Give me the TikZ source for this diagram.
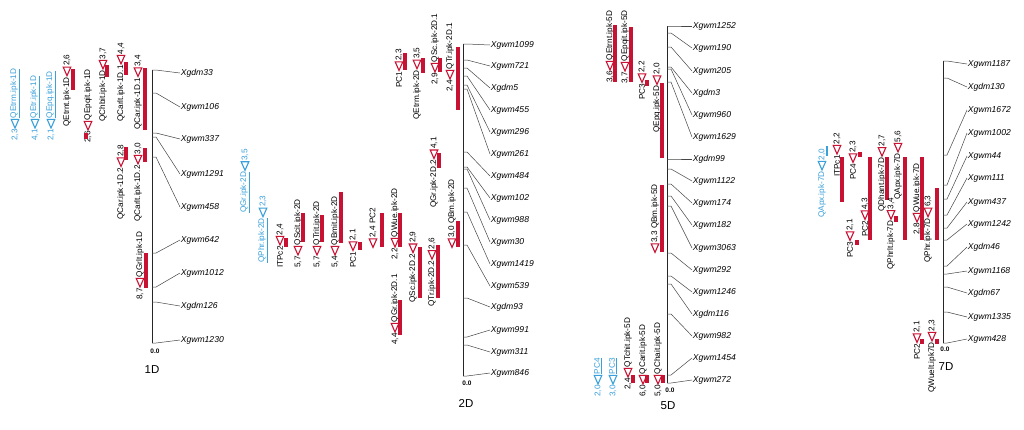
\documentclass[tikz,border=0pt]{standalone}
\usepackage{fontspec}
\setmainfont{Liberation Sans}
\definecolor{qred}{RGB}{200,18,52}
\definecolor{qblue}{RGB}{58,160,218}
\definecolor{conncol}{RGB}{70,70,70}
% marker: name, axis x, attach y, label x, label y, text
\newcommand{\mkr}[6]{%
  \coordinate (a#1) at (#2,#3);
  \node[mk] (#1) at (#4,#5) {#6};
  \draw[conn] (a#1) -- ++(4,0) -- (#1.west);}
% qtl label: name, x, y bottom, text before triangle, text after triangle, colour
\newcommand{\qtl}[6]{%
  \node[ql,#6txt] (#1a) at (#2,#3) {#4};
  \draw[tri=#6] (#1a.east) ++(0,-1.2) coordinate (#1p) -- ++(-3.8,-8.6) -- ++(7.6,0) -- cycle;
  \path (#1p) ++(0,-9.6) coordinate (#1e);
  \node[ql,#6txt] (#1b) at (#1e) {#5};}
% bar: x, y1, y2
\newcommand{\qbar}[3]{\draw[qbarst] (#1,#2) -- (#1,#3);}
\newcommand{\bbar}[3]{\draw[bbarst] (#1,#2) -- (#1,#3);}
\tikzset{
  mk/.style={anchor=west,inner sep=0.6pt,font=\fontsize{8.6}{10}\selectfont\itshape},
  ql/.style={rotate=90,anchor=west,inner sep=0pt,font=\fontsize{8.2}{9}\selectfont},
  qredtxt/.style={text=black},
  qbluetxt/.style={text=qblue},
  tri/.style={draw=#1,line width=1.1pt,fill=white,line join=miter},
  conn/.style={draw=conncol,line width=0.5pt},
  axisln/.style={draw=black!85,line width=0.9pt},
  qbarst/.style={draw=qred,line width=3.2pt},
  bbarst/.style={draw=qblue,line width=1.2pt},
  zero/.style={font=\fontsize{6.5}{7}\selectfont\bfseries,inner sep=0pt},
  chrlab/.style={font=\fontsize{11.5}{12}\selectfont,inner sep=0pt}
}
\begin{document}
\begin{tikzpicture}[x=1pt,y=-1pt]
\fill[white] (0,0) rectangle (1024,429);
\useasboundingbox (0,0) rectangle (1024,429);

% ================= 1D =================
\coordinate (t1) at (152,70); \coordinate (b1) at (152,343);
\draw[axisln] (t1) -- (b1);
\node[zero] (z1) at (155,351) {0.0};
\node[chrlab] (c1) at (152,370) {1D};
\mkr{m1a}{152}{70}{180}{73}{Xgdm33}
\mkr{m1b}{152}{93}{180}{107}{Xgwm106}
\mkr{m1c}{152}{133}{180}{139}{Xgwm337}
\mkr{m1d}{152}{137}{180}{174}{Xgwm1291}
\mkr{m1e}{152}{157}{180}{207}{Xgwm458}
\mkr{m1f}{152}{253}{180}{240}{Xgwm642}
\mkr{m1g}{152}{287}{180}{273}{Xgwm1012}
\mkr{m1h}{152}{302}{180}{306}{Xgdm126}
\mkr{m1i}{152}{343}{180}{340}{Xgwm1230}

\qtl{q1}{15}{141}{2,3}{\underline{QEtrm.ipk-1D}}{qblue}
\qtl{q2}{35}{141}{4,1}{\underline{QEtr.ipk-1D}}{qblue}
\qtl{q3}{51}{141}{2,1}{\underline{QEpq.ipk-1D}}{qblue}
\qtl{q4}{67}{127}{QEtrnt.ipk-1D}{2,6}{qred} \qbar{73}{69}{90}
\qtl{q5}{88}{143}{2,6}{QEpqit.ipk-1D}{qred} \qbar{86}{133}{139}
\qtl{q6}{103}{122}{QChbit.ipk-1D}{3,7}{qred} \qbar{107}{65}{77}
\qtl{q7}{121}{122}{QCarlt.ipk-1D.1}{4,4}{qred} \qbar{126}{62}{75}
\qtl{q8}{138}{130}{QCar.ipk-1D.1}{3,4}{qred} \qbar{145}{68}{130}
\qtl{q9}{121}{220}{QCar.ipk-1D.2}{2,8}{qred} \qbar{126}{147}{160}
\qtl{q10}{138}{222}{QCarlt.ipk-1D.2}{3,0}{qred} \qbar{145}{148}{162}
\qtl{q11}{140}{300}{8,7}{QGrlt.ipk-1D}{qred} \qbar{146}{253}{288}

% ================= 2D =================
\coordinate (t2) at (463,44); \coordinate (b2) at (463,376);
\draw[axisln] (t2) -- (b2);
\node[zero] (z2) at (467,383) {0.0};
\node[chrlab] (c2) at (466,403) {2D};
\mkr{m2a}{463}{44}{490}{45}{Xgwm1099}
\mkr{m2b}{463}{60}{490}{66}{Xgwm721}
\mkr{m2c}{463}{68}{490}{88}{Xgdm5}
\mkr{m2d}{463}{76}{490}{110}{Xgwm455}
\mkr{m2e}{463}{85}{490}{132}{Xgwm296}
\mkr{m2f}{463}{89}{490}{154}{Xgwm261}
\mkr{m2g}{463}{152}{490}{176}{Xgwm484}
\mkr{m2h}{463}{167}{490}{198}{Xgwm102}
\mkr{m2i}{463}{169}{490}{220}{Xgwm988}
\mkr{m2j}{463}{188}{490}{242}{Xgwm30}
\mkr{m2k}{463}{212}{490}{264}{Xgwm1419}
\mkr{m2l}{463}{245}{490}{286}{Xgwm539}
\mkr{m2m}{463}{298}{490}{307}{Xgdm93}
\mkr{m2n}{463}{337}{490}{330}{Xgwm991}
\mkr{m2o}{463}{345}{490}{352}{Xgwm311}
\mkr{m2p}{463}{376}{490}{373}{Xgwm846}

\qtl{q12}{245}{213}{\underline{QGr.ipk-2D}}{3,5}{qblue}
\qtl{q13}{263}{263}{\underline{QPhr.ipk-2D}}{2,3}{qblue}
\qtl{q14}{280}{268}{ITPc2}{2,4}{qred} \qbar{286}{238}{247}
\qtl{q15}{298}{268}{5,7}{QScit.ipk-2D}{qred} \qbar{303}{213}{242}
\qtl{q16}{317}{268}{5,7}{QTrit.ipk-2D}{qred} \qbar{322}{215}{242}
\qtl{q17}{335}{268}{5,4}{QBmit.ipk-2D}{qred} \qbar{341}{192}{243}
\qtl{q18}{353}{268}{PC1}{2,1}{qred} \qbar{360}{242}{250}
\qtl{q19}{373}{250}{}{2,4 PC2}{qred} \qbar{382}{213}{247}
\qtl{q20}{395}{260}{2,2}{QWue.ipk-2D}{qred} \qbar{400}{213}{247}
\qtl{q21}{413}{303}{QSc.ipk-2D.2}{2,9}{qred} \qbar{420}{247}{298}
\qtl{q22}{432}{307}{QTr.ipk-2D.2}{2,6}{qred} \qbar{438}{245}{298}
\qtl{q23}{452}{250}{}{3,0 QBm.ipk-2D}{qred} \qbar{458}{221}{247}
\qtl{q24}{434}{208}{QGr.ipk-2D.2}{4,1}{qred} \qbar{439}{153}{168}
\qtl{q25}{395}{345}{4,4}{QGr.ipk-2D.1}{qred} \qbar{400}{300}{335}
\qtl{q26}{399}{88}{PC1}{2,3}{qred} \qbar{405}{53}{70}
\qtl{q27}{417}{120}{QEtrm.ipk-2D}{3,5}{qred} \qbar{423}{58}{73}
\qtl{q28}{435}{85}{2,9}{QSc.ipk-2D.1}{qred} \qbar{440}{58}{72}
\qtl{q29}{450}{92}{2,4}{QTr.ipk-2D.1}{qred} \qbar{458}{47}{110}

% ================= 5D =================
\coordinate (t5) at (667,26); \coordinate (b5) at (667,383);
\draw[axisln] (t5) -- (b5);
\node[zero] (z5) at (670,390) {0.0};
\node[chrlab] (c5) at (668,406) {5D};
\mkr{m5a}{667}{26}{692}{26}{Xgwm1252}
\mkr{m5b}{667}{33}{692}{48}{Xgwm190}
\mkr{m5c}{667}{47}{692}{71}{Xgwm205}
\mkr{m5d}{667}{67}{692}{93}{Xgdm3}
\mkr{m5e}{667}{69}{692}{115}{Xgwm960}
\mkr{m5f}{667}{82}{692}{137}{Xgwm1629}
\mkr{m5g}{667}{159}{692}{159}{Xgdm99}
\mkr{m5h}{667}{169}{692}{181}{Xgwm1122}
\mkr{m5i}{667}{184}{692}{203}{Xgwm174}
\mkr{m5j}{667}{196}{692}{225}{Xgwm182}
\mkr{m5k}{667}{206}{692}{248}{Xgwm3063}
\mkr{m5l}{667}{253}{692}{270}{Xgwm292}
\mkr{m5m}{667}{276}{692}{292}{Xgwm1246}
\mkr{m5n}{667}{284}{692}{314}{Xgdm116}
\mkr{m5o}{667}{314}{692}{336}{Xgwm982}
\mkr{m5p}{667}{375}{692}{358}{Xgwm1454}
\mkr{m5q}{667}{383}{692}{380}{Xgwm272}

\qtl{q30}{610}{83}{3,6}{QEtrnt.ipk-5D}{qred} \qbar{615}{25}{82}
\qtl{q31}{625}{84}{3,7}{QEpqit.ipk-5D}{qred} \qbar{631}{27}{82}
\qtl{q32}{642}{100}{PC3}{2,2}{qred} \qbar{647}{80}{86}
\qtl{q33}{657}{133}{QEpq.ipk-5D}{2,0}{qred} \qbar{662}{83}{158}
\qtl{q34}{655}{255}{}{3,3 QBm.ipk-5D}{qred} \qbar{662}{185}{252}
\qtl{q35}{628}{390}{2,4}{QTchit.ipk-5D}{qred} \qbar{633}{375}{383}
\qtl{q36}{643}{397}{6,0}{QCarit.ipk-5D}{qred} \qbar{647}{375}{383}
\qtl{q37}{658}{397}{5,0}{QChait.ipk-5D}{qred} \qbar{663}{375}{383}
\qtl{q38}{598}{397}{2,0}{\underline{PC4}}{qblue}
\qtl{q39}{613}{397}{3,0}{\underline{PC3}}{qblue}

% ================= 7D =================
\coordinate (t7) at (943,61); \coordinate (b7) at (943,343);
\draw[axisln] (t7) -- (b7);
\node[zero] (z7) at (945,349) {0.0};
\node[chrlab] (c7) at (946,367) {7D};
\mkr{m7a}{943}{61}{967}{64}{Xgwm1187}
\mkr{m7b}{943}{78}{967}{87}{Xgdm130}
\mkr{m7c}{943}{155}{967}{110}{Xgwm1672}
\mkr{m7d}{943}{185}{967}{133}{Xgwm1002}
\mkr{m7e}{943}{199}{967}{156}{Xgwm44}
\mkr{m7f}{943}{215}{967}{178}{Xgwm111}
\mkr{m7g}{943}{228}{967}{202}{Xgwm437}
\mkr{m7h}{943}{240}{967}{224}{Xgwm1242}
\mkr{m7i}{943}{266}{967}{247}{Xgdm46}
\mkr{m7j}{943}{274}{967}{271}{Xgwm1168}
\mkr{m7k}{943}{287}{967}{293}{Xgdm67}
\mkr{m7l}{943}{312}{967}{317}{Xgwm1335}
\mkr{m7m}{943}{343}{967}{339}{Xgwm428}

\qtl{q40}{822}{218}{QApx.ipk-7D}{2,0}{qblue} \bbar{827}{146}{156}
\qtl{q41}{837}{177}{ITPc1}{2,2}{qred} \qbar{842}{157}{202}
\qtl{q42}{853}{180}{PC4}{2,3}{qred} \qbar{860}{152}{157}
\qtl{q43}{850}{258}{PC3}{2,1}{qred} \qbar{857}{240}{245}
\qtl{q44}{865}{237}{PC2}{4,3}{qred} \qbar{870}{157}{240}
\qtl{q45}{882}{212}{QDhant.ipk-7D}{2,7}{qred} \qbar{887}{157}{200}
\qtl{q46}{891}{270}{QPhrlt.ipk-7D}{3,4}{qred} \qbar{896}{216}{222}
\qtl{q47}{898}{200}{QApx.ipk-7D}{5,6}{qred} \qbar{905}{157}{240}
\qtl{q48}{917}{235}{2,8}{QWue.ipk-7D}{qred} \qbar{922}{157}{240}
\qtl{q49}{928}{263}{QPhr.ipk-7D}{6,3}{qred} \qbar{937}{188}{240}
\qtl{q50}{917}{360}{PC2}{2,1}{qred} \qbar{922}{339}{344}
\qtl{q51}{932}{393}{QWuelt.ipk7D}{2,3}{qred} \qbar{937}{339}{344}
\end{tikzpicture}
\end{document}
